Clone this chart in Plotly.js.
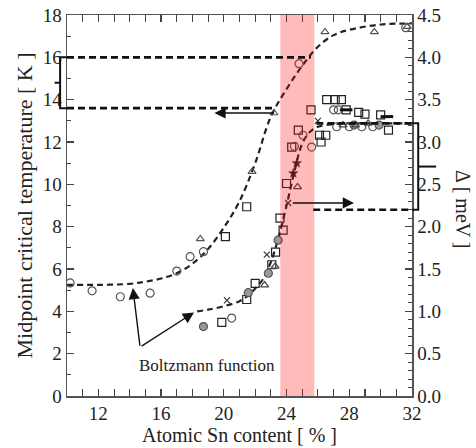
<!DOCTYPE html>
<html>
<head>
<meta charset="utf-8">
<script src="https://cdn.plot.ly/plotly-3.0.1.min.js"></script>
<style>html,body{margin:0;padding:0;background:#fff;}#chart{width:476px;height:448px;}</style>
</head>
<body>
<div id="chart"></div>
<script>
// ---- Boltzmann fit curves ----
const tcFitX = [10, 12, 14, 15, 16, 17, 18, 19, 20, 21, 22, 23, 24, 25, 26, 27, 28, 30, 32];
const tcFitY = [5.25, 5.25, 5.3, 5.4, 5.55, 5.8, 6.25, 6.95, 7.95, 9.2, 11.0, 13.2, 14.5, 15.6, 16.5, 17.05, 17.3, 17.55, 17.6];
const gapFitX = [18.3, 19, 20, 21, 21.5, 22, 22.5, 23, 23.5, 24, 24.5, 25, 25.5, 26, 27, 28, 30, 32];
const gapFitY = [1.0, 1.02, 1.06, 1.12, 1.18, 1.27, 1.38, 1.58, 1.88, 2.25, 2.65, 2.98, 3.12, 3.18, 3.21, 3.22, 3.22, 3.22];

// ---- Tc data (left axis, K) ----
const tcCircX = [10.2, 11.6, 13.4, 15.3, 17.0, 17.85, 18.7, 24.8, 31.6];
const tcCircY = [5.34, 4.97, 4.69, 4.86, 5.9, 6.58, 6.82, 15.7, 17.4];
const tcTriX = [18.5, 21.8, 23.2, 26.45, 29.6, 31.7];
const tcTriY = [7.42, 10.6, 13.37, 17.2, 17.2, 17.45];
const tcSqX = [20.1, 21.46];
const tcSqY = [7.53, 8.94];

// ---- Gap data (right axis, meV) ----
const gapSqX = [19.87, 21.46, 22.0, 23.06, 23.3, 23.78, 23.58, 24.0, 24.33, 24.75, 25.56, 26.56, 27.1, 27.5, 27.8, 28.6, 29.0, 30.0, 26.1, 26.5, 30.5, 26.2];
const gapSqY = [0.87, 1.14, 1.33, 1.55, 1.70, 1.96, 2.10, 2.51, 2.94, 3.14, 3.38, 3.50, 3.50, 3.50, 3.38, 3.35, 3.33, 3.32, 3.08, 3.08, 3.14, 3.0];
const gapCircX = [20.5, 25.6, 25.05, 27.0, 27.3, 27.2, 28.0, 28.8, 29.5, 24.5];
const gapCircY = [0.92, 2.94, 3.08, 3.38, 3.38, 3.18, 3.18, 3.18, 3.18, 2.95];
const gapFillX = [18.7, 21.56, 22.84, 23.46, 28.3, 29.9];
const gapFillY = [0.82, 1.22, 1.45, 1.84, 3.2, 3.2];
const gapTriX = [22.6, 23.27, 24.7, 27.6, 28.4, 29.2];
const gapTriY = [1.31, 1.53, 2.47, 3.2, 3.2, 3.22];
const gapXX = [20.2, 22.74, 24.1, 26.0];
const gapXY = [1.13, 1.67, 2.28, 3.25];
const gapStarX = [24.43, 24.65];
const gapStarY = [2.63, 2.75];
const gapDashX = [27.8, 30.4];
const gapDashY = [3.38, 3.30];

// ---- reference levels ----
const tcLevels = [16.0, 13.6];      // K
const tcLevelEnds = [25.55, 23.2];  // x where dashed line meets fit
const gapLevels = [3.22, 2.2];      // meV
const gapLevelStarts = [25.9, 25.7];
const bandX = [23.6, 25.77];

const serif = 'Liberation Serif';
const ink = '#222';

function mk(x, y, axis, symbol, size, color, fill, lw) {
  return {x: x, y: y, yaxis: axis, type: 'scatter', mode: 'markers', showlegend: false, hoverinfo: 'skip',
    marker: {symbol: symbol, size: size, color: fill || color, line: {color: color, width: lw || 1.2}}};
}

const traces = [
  {x: tcFitX, y: tcFitY, yaxis: 'y', type: 'scatter', mode: 'lines', showlegend: false,
   line: {color: ink, width: 2.2, dash: '6px,4px', shape: 'spline', smoothing: 1}},
  {x: gapFitX, y: gapFitY, yaxis: 'y2', type: 'scatter', mode: 'lines', showlegend: false,
   line: {color: ink, width: 2.2, dash: '6px,4px', shape: 'spline', smoothing: 1}},
  mk(tcCircX, tcCircY, 'y', 'circle-open', 8, '#555'),
  mk(tcTriX, tcTriY, 'y', 'triangle-up-open', 7, '#555'),
  mk(tcSqX, tcSqY, 'y', 'square-open', 8, '#222'),
  mk(gapSqX, gapSqY, 'y2', 'square-open', 8, '#222'),
  mk(gapCircX, gapCircY, 'y2', 'circle-open', 8, '#555'),
  mk(gapFillX, gapFillY, 'y2', 'circle', 8, '#555', '#999'),
  mk(gapTriX, gapTriY, 'y2', 'triangle-up-open', 7, '#444'),
  mk(gapXX, gapXY, 'y2', 'x-thin-open', 6, '#333'),
  mk(gapStarX, gapStarY, 'y2', 'star', 7, '#222', '#222', 0.5),
  mk(gapDashX, gapDashY, 'y2', 'line-ew-open', 9, '#111', null, 3)
];

const yPaper = v => v / 18;
const y2Paper = v => v / 4.5;

const shapes = [];
// pink composition band
shapes.push({type: 'rect', xref: 'x', yref: 'paper', x0: bandX[0], x1: bandX[1], y0: 0, y1: 1,
  fillcolor: 'rgba(255,0,0,0.27)', line: {width: 0}, layer: 'above'});
// Tc reference dashed lines
tcLevels.forEach((v, i) => shapes.push({type: 'line', xref: 'x', yref: 'y', x0: 10, x1: tcLevelEnds[i], y0: v, y1: v,
  line: {color: '#111', width: 2.6, dash: '7px,4px'}}));
// gap reference dashed lines
gapLevels.forEach((v, i) => shapes.push({type: 'line', xref: 'x', yref: 'y2', x0: gapLevelStarts[i], x1: 32, y0: v, y1: v,
  line: {color: '#111', width: 2.6, dash: '7px,4px'}}));
// left bracket (outside axis)
const lb = -0.02, lbTip = -0.036;
shapes.push({type: 'path', xref: 'paper', yref: 'paper',
  path: `M 0 ${yPaper(tcLevels[0])} L ${lb} ${yPaper(tcLevels[0])} L ${lb} ${yPaper(tcLevels[1])} L 0 ${yPaper(tcLevels[1])}`,
  line: {color: '#111', width: 2}});
shapes.push({type: 'line', xref: 'paper', yref: 'paper', x0: lb, x1: lbTip,
  y0: yPaper((tcLevels[0] + tcLevels[1]) / 2), y1: yPaper((tcLevels[0] + tcLevels[1]) / 2), line: {color: '#111', width: 2}});
// right bracket
const rb = 1.018, rbTip = 1.07;
shapes.push({type: 'path', xref: 'paper', yref: 'paper',
  path: `M 1 ${y2Paper(gapLevels[0])} L ${rb} ${y2Paper(gapLevels[0])} L ${rb} ${y2Paper(gapLevels[1])} L 1 ${y2Paper(gapLevels[1])}`,
  line: {color: '#111', width: 2}});
shapes.push({type: 'line', xref: 'paper', yref: 'paper', x0: rb, x1: rbTip,
  y0: y2Paper((gapLevels[0] + gapLevels[1]) / 2), y1: y2Paper((gapLevels[0] + gapLevels[1]) / 2), line: {color: '#111', width: 2}});

function arrow(x, y, ax, ay, yref) {
  return {x: x, y: y, ax: ax, ay: ay, xref: 'x', yref: yref, axref: 'x', ayref: yref, text: '',
    showarrow: true, arrowhead: 2, arrowsize: 1.6, arrowwidth: 1.4, arrowcolor: '#111'};
}

const annotations = [
  arrow(19.4, 13.37, 23.3, 13.37, 'y'),
  arrow(28.3, 2.28, 24.3, 2.28, 'y2'),
  arrow(14.2, 5.1, 14.66, 2.31, 'y'),
  arrow(18.1, 3.95, 14.66, 2.31, 'y'),
  {x: 14.45, y: 1.42, xref: 'x', yref: 'y', xanchor: 'left', yanchor: 'middle', showarrow: false,
   text: 'Boltzmann function', font: {family: serif, size: 17, color: ink}},
  {x: 1.146, y: 0.49, xref: 'paper', yref: 'paper', xanchor: 'center', yanchor: 'middle', showarrow: false, textangle: 90,
   text: 'Δ [ meV ]', font: {family: serif, size: 20, color: ink}}
];

const axisCommon = {
  showline: true, linecolor: '#555', linewidth: 1.5, ticks: 'inside', ticklen: 7, tickwidth: 1.3, tickcolor: '#444',
  showgrid: false, zeroline: false, tickfont: {family: serif, size: 19, color: ink}
};

const layout = {
  width: 476, height: 448,
  margin: {l: 67, r: 64, t: 15, b: 52},
  paper_bgcolor: '#fff', plot_bgcolor: 'rgba(0,0,0,0)',
  showlegend: false,
  xaxis: Object.assign({}, axisCommon, {
    range: [10, 32], tick0: 12, dtick: 4, mirror: 'allticks',
    minor: {dtick: 1, ticks: 'inside', ticklen: 4, tickcolor: '#444', tickwidth: 1.1},
    title: {text: 'Atomic Sn content [ % ]', font: {family: serif, size: 20, color: ink}, standoff: 4}
  }),
  yaxis: Object.assign({}, axisCommon, {
    range: [0, 18], dtick: 2,
    minor: {dtick: 1, ticks: 'inside', ticklen: 4, tickcolor: '#444', tickwidth: 1.1},
    title: {text: 'Midpoint critical temperature [ K ]', font: {family: serif, size: 22, color: ink}, standoff: 4}
  }),
  yaxis2: Object.assign({}, axisCommon, {
    overlaying: 'y', side: 'right', range: [0, 4.5], dtick: 0.5, tickformat: '.1f',
    minor: {dtick: 0.1, ticks: 'inside', ticklen: 4, tickcolor: '#444', tickwidth: 1.1}
  }),
  shapes: shapes,
  annotations: annotations
};

Plotly.newPlot('chart', traces, layout, {displayModeBar: false, staticPlot: true});
</script>
</body>
</html>
